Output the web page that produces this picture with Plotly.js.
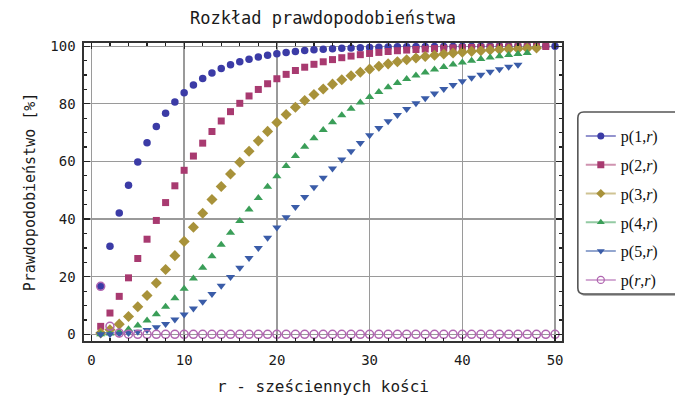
<!DOCTYPE html>
<html>
<head>
<meta charset="utf-8">
<script src="https://cdn.plot.ly/plotly-3.0.1.min.js"></script>
<style>
html,body{margin:0;padding:0;background:#fff;}
#chart{width:675px;height:398px;}
</style>
</head>
<body>
<div id="chart"></div>
<script>
// r values (number of dice)
const rValues = [1,2,3,4,5,6,7,8,9,10,11,12,13,14,15,16,17,18,19,20,21,22,23,24,25,26,27,28,29,30,31,32,33,34,35,36,37,38,39,40,41,42,43,44,45,46,47,48,49,50];

// probabilities in %
const p1 = [16.67,30.56,42.13,51.77,59.81,66.51,72.09,76.74,80.62,83.85,86.54,88.78,90.65,92.21,93.51,94.59,95.49,96.24,96.87,97.39,97.83,98.19,98.49,98.74,98.95,99.13,99.27,99.39,99.49,99.58,99.65,99.71,99.76,99.80,99.83,99.86,99.88,99.90,99.92,99.93,99.94,99.95,99.96,99.97,99.97,99.98,99.98,99.98,99.99,99.99];
const p2 = [2.78,7.41,13.19,19.62,26.32,33.02,39.53,45.73,51.55,56.93,61.87,66.35,70.40,74.04,77.28,80.17,82.72,84.98,86.96,88.70,90.22,91.55,92.70,93.71,94.58,95.34,96.00,96.56,97.05,97.47,97.84,98.15,98.42,98.65,98.84,99.01,99.16,99.28,99.39,99.48,99.56,99.62,99.68,99.73,99.77,99.80,99.83,99.86,99.88];
const p3 = [0.46,1.62,3.55,6.23,9.58,13.48,17.83,22.48,27.32,32.26,37.20,42.05,46.77,51.32,55.65,59.74,63.57,67.14,70.43,73.49,76.28,78.82,81.14,83.23,85.12,86.83,88.35,89.72,90.94,92.03,93.00,93.86,94.62,95.29,95.88,96.40,96.86,97.27,97.62,97.93,98.20,98.44,98.65,98.82,98.98,99.12,99.24,99.34];
const p4 = [0.08,0.33,0.87,1.76,3.07,4.80,6.97,9.56,12.52,15.81,19.37,23.15,27.09,31.13,35.22,39.30,43.35,47.30,51.18,54.90,58.45,61.85,65.06,68.09,70.93,73.58,76.04,78.32,80.42,82.36,84.13,85.75,87.23,88.57,89.79,90.90,91.89,92.78,93.60,94.31,94.96,95.55,96.06,96.52,96.93,97.29,97.61];
const p5 = [0.01,0.07,0.20,0.46,0.89,1.54,2.45,3.63,5.12,6.89,8.97,11.34,13.97,16.83,19.89,23.14,26.48,29.98,33.52,37.06,40.64,44.17,47.65,51.06,54.37,57.56,60.64,63.58,66.40,69.05,71.57,73.93,76.14,78.21,80.16,81.95,83.60,85.14,86.53,87.84,89.04,90.10,91.09,92.01,92.82,93.59];
const prr = [16.67,2.78,0.46,0.08,0.01,0.002,0.0004,0,0,0,0,0,0,0,0,0,0,0,0,0,0,0,0,0,0,0,0,0,0,0,0,0,0,0,0,0,0,0,0,0,0,0,0,0,0,0,0,0,0,0];

const seriesNames = ['p(1,<i>r</i>)','p(2,<i>r</i>)','p(3,<i>r</i>)','p(4,<i>r</i>)','p(5,<i>r</i>)','p(<i>r</i>,<i>r</i>)'];
const seriesData = [p1,p2,p3,p4,p5,prr];
const colors = ['#3b3ba6','#a83a70','#a8923a','#3a9e58','#3a5ca8','#b066b0'];
const lineColors = ['rgba(59,59,166,0.55)','rgba(168,58,112,0.55)','rgba(168,146,58,0.55)','rgba(58,158,88,0.55)','rgba(58,92,168,0.55)','rgba(176,102,176,0.55)'];
const symbols = ['circle','square','diamond','triangle-up','triangle-down','circle-open'];
const sizes = [7.5,7,8.5,8,8,8];

const traces = [];
seriesData.forEach((d,i)=>{
  traces.push({
    x: rValues.slice(0,d.length), y: d, type:'scatter', mode:'markers',
    showlegend:false, hoverinfo:'skip',
    marker:{symbol:symbols[i], size:sizes[i], color:colors[i],
      line:{width: i===5?1.5:0, color:colors[i]}}
  });
});
seriesData.forEach((d,i)=>{
  traces.push({
    x:[null], y:[null], type:'scatter', mode:'lines+markers', name:seriesNames[i],
    legendgroup:'g'+i, showlegend:true,
    line:{color:lineColors[i], width:2},
    marker:{symbol:symbols[i], size:7, color:colors[i], line:{width:i===5?1.3:0, color:colors[i]}}
  });
});

const W = 483, H = 298;
const bx0 = (583-84)/W, bx1 = (690-84)/W, by1 = (341-112)/H, by0 = (341-294)/H;
const rx = 6/W, ry = 6/H;
function rrect(x0,y0,x1,y1){
  return `M ${x0+rx} ${y1} L ${x1-rx} ${y1} Q ${x1} ${y1} ${x1} ${y1-ry} L ${x1} ${y0+ry} Q ${x1} ${y0} ${x1-rx} ${y0} L ${x0+rx} ${y0} Q ${x0} ${y0} ${x0} ${y0+ry} L ${x0} ${y1-ry} Q ${x0} ${y1} ${x0+rx} ${y1} Z`;
}
const sdx = 2/W, sdy = 2/H;

const axisFont = {family:'DejaVu Sans Mono, monospace', size:14, color:'#1a1a1a'};
const layout = {
  width:675, height:398,
  margin:{l:84, r:108, t:43, b:57},
  paper_bgcolor:'#fff', plot_bgcolor:'#fff',
  title:{text:'Rozkład prawdopodobieństwa', font:{family:'DejaVu Sans Mono, monospace', size:17, color:'#1a1a1a'}, x:0.5, xref:'paper', y:0.955, yanchor:'middle'},
  xaxis:{range:[-0.8,50.75], tickvals:[0,10,20,30,40,50], ticks:'inside', ticklen:6, tickwidth:1.2, tickcolor:'#222',
    minor:{dtick:2, tick0:0, ticks:'inside', ticklen:3, tickcolor:'#222', showgrid:false},
    showline:true, linecolor:'#333', linewidth:1.6, mirror:'ticks',
    showgrid:true, gridcolor:'#9a9a9a', gridwidth:1.3, zeroline:false,
    tickfont:axisFont, ticklabelstandoff:6,
    title:{text:'r - sześciennych kości', font:{family:'DejaVu Sans Mono, monospace', size:16, color:'#1a1a1a'}, standoff:13}},
  yaxis:{range:[-2.3,101.1], tickvals:[0,20,40,60,80,100], ticks:'inside', ticklen:6, tickwidth:1.2, tickcolor:'#222',
    minor:{dtick:5, tick0:0, ticks:'inside', ticklen:3, tickcolor:'#222', showgrid:false},
    showline:true, linecolor:'#333', linewidth:1.6, mirror:'ticks',
    showgrid:true, gridcolor:'#9a9a9a', gridwidth:1.3, zeroline:false,
    tickfont:axisFont, ticklabelstandoff:4,
    title:{text:'Prawdopodobieństwo [%]\u00a0\u00a0', font:{family:'DejaVu Sans Mono, monospace', size:15, color:'#1a1a1a'}, standoff:11}},
  legend:{x:(586-84)/W, xanchor:'left', y:(341-119)/H, yanchor:'top', bgcolor:'rgba(0,0,0,0)', borderwidth:0,
    traceorder:'grouped', tracegroupgap:5, itemwidth:30,
    font:{family:'Liberation Serif, serif', size:16, color:'#111'}},
  shapes:[
    {type:'path', xref:'paper', yref:'paper', path:rrect(bx0+sdx,by0-sdy,bx1+sdx,by1-sdy), fillcolor:'#b0b0b0', line:{width:0}, layer:'above'},
    {type:'path', xref:'paper', yref:'paper', path:rrect(bx0,by0,bx1,by1), fillcolor:'#fff', line:{width:1.6, color:'#555'}, layer:'above'}
  ]
};
Plotly.newPlot('chart', traces, layout, {staticPlot:true, displayModeBar:false});
</script>
</body>
</html>
